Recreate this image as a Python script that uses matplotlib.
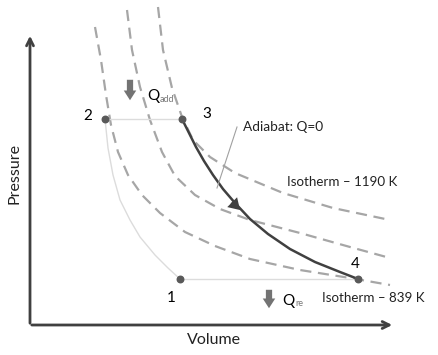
import numpy as np
import matplotlib.pyplot as plt

plt.rcParams['font.family'] = ['Lato', 'DejaVu Sans']

# state points (volume, pressure) in arbitrary units
pts_v = [150, 75, 152, 328]
pts_p = [46, 206, 206, 46]

# isotherm curves (dashed)
iso_low_v = [65, 71, 76, 81, 88, 98, 112, 130, 155, 185, 220, 270, 320, 360]
iso_low_p = [298, 265, 230, 200, 173, 150, 130, 112, 93, 79, 66, 55, 47, 40]
iso_mid_v = [97, 102, 110, 120, 132, 145, 165, 190, 220, 270, 320, 360]
iso_mid_p = [315, 275, 238, 205, 173, 149, 130, 116, 105, 92, 78, 67]
iso_high_v = [128, 133, 142, 152, 163, 180, 205, 253, 303, 360]
iso_high_p = [318, 275, 237, 208, 185, 168, 152, 132, 117, 105]

# adiabatic expansion 3 -> 4
adi_v = [152, 159, 166, 174, 183, 193, 205, 220, 238, 260, 285, 310, 328]
adi_p = [206, 192, 178, 164, 150, 136, 122, 106, 91, 76, 63, 53, 46]

# compression 1 -> 2
comp_v = [75, 78, 83, 90, 100, 110, 125, 138, 150]
comp_p = [206, 177, 150, 125, 105, 88, 70, 57, 46]

fig = plt.figure(figsize=(4.39, 3.55), dpi=100)
ax = fig.add_axes([0, 0, 1, 1])
ax.set_xlim(-30, 409)
ax.set_ylim(-30, 325)
ax.axis('off')

dash = dict(color='#a6a6a6', lw=1.6, dashes=(5, 3))
ax.plot(iso_low_v, iso_low_p, **dash)
ax.plot(iso_mid_v, iso_mid_p, **dash)
ax.plot(iso_high_v, iso_high_p, **dash)

ax.plot(comp_v, comp_p, color='#dcdcdc', lw=1.0)
ax.plot([pts_v[1], pts_v[2]], [pts_p[1], pts_p[2]], color='#dcdcdc', lw=1.0)
ax.plot([pts_v[0], pts_v[3]], [pts_p[0], pts_p[3]], color='#dcdcdc', lw=1.0)
ax.plot(adi_v, adi_p, color='#404040', lw=1.8, solid_joinstyle='round')

ax.scatter(pts_v, pts_p, s=22, color='#595959', zorder=5)

# axes arrows
ax.annotate('', xy=(0, 292), xytext=(0, -1),
            arrowprops=dict(arrowstyle='->,head_width=0.25,head_length=0.5', color='#404040', lw=2))
ax.annotate('', xy=(365, 0), xytext=(-1, 0),
            arrowprops=dict(arrowstyle='->,head_width=0.25,head_length=0.5', color='#404040', lw=2))
ax.text(184, -15, 'Volume', fontsize=11.5, ha='center', va='center', color='#222222')
ax.text(-15, 151, 'Pressure', fontsize=11.5, ha='center', va='center', rotation=90, color='#222222')

# point labels
ax.text(58, 209, '2', fontsize=11, ha='center', va='center')
ax.text(177, 211, '3', fontsize=11, ha='center', va='center')
ax.text(141, 27, '1', fontsize=11, ha='center', va='center')
ax.text(325, 61, '4', fontsize=11, ha='center', va='center')

# heat arrows
fat = dict(arrowstyle='simple,head_width=0.9,head_length=0.7,tail_width=0.45', color='#737373', lw=0)
ax.annotate('', xy=(100, 222), xytext=(100, 248), arrowprops=fat)
ax.annotate('', xy=(239, 14), xytext=(239, 38), arrowprops=fat)
ax.text(117, 229, 'Q', fontsize=11, ha='left', va='center')
ax.text(130, 226, 'add', fontsize=6.5, ha='left', va='center', color='#777777')
ax.text(252, 24, 'Q', fontsize=11, ha='left', va='center')
ax.text(265, 21, 're', fontsize=6.5, ha='left', va='center', color='#777777')

# adiabat arrow and callout
ax.annotate('', xy=(212, 113), xytext=(200, 125),
            arrowprops=dict(arrowstyle='simple,head_width=1.0,head_length=0.8,tail_width=0.3', color='#404040', lw=0))
ax.plot([207, 187], [198, 137], color='#a0a0a0', lw=0.8)
ax.text(213, 198, 'Adiabat: Q=0', fontsize=9.8, ha='left', va='center', color='#222222')

ax.text(257, 143, 'Isotherm – 1190 K', fontsize=9.6, ha='left', va='center', color='#222222')
ax.text(292, 27, 'Isotherm – 839 K', fontsize=9.6, ha='left', va='center', color='#222222')

fig.savefig('out.png', dpi=100)
